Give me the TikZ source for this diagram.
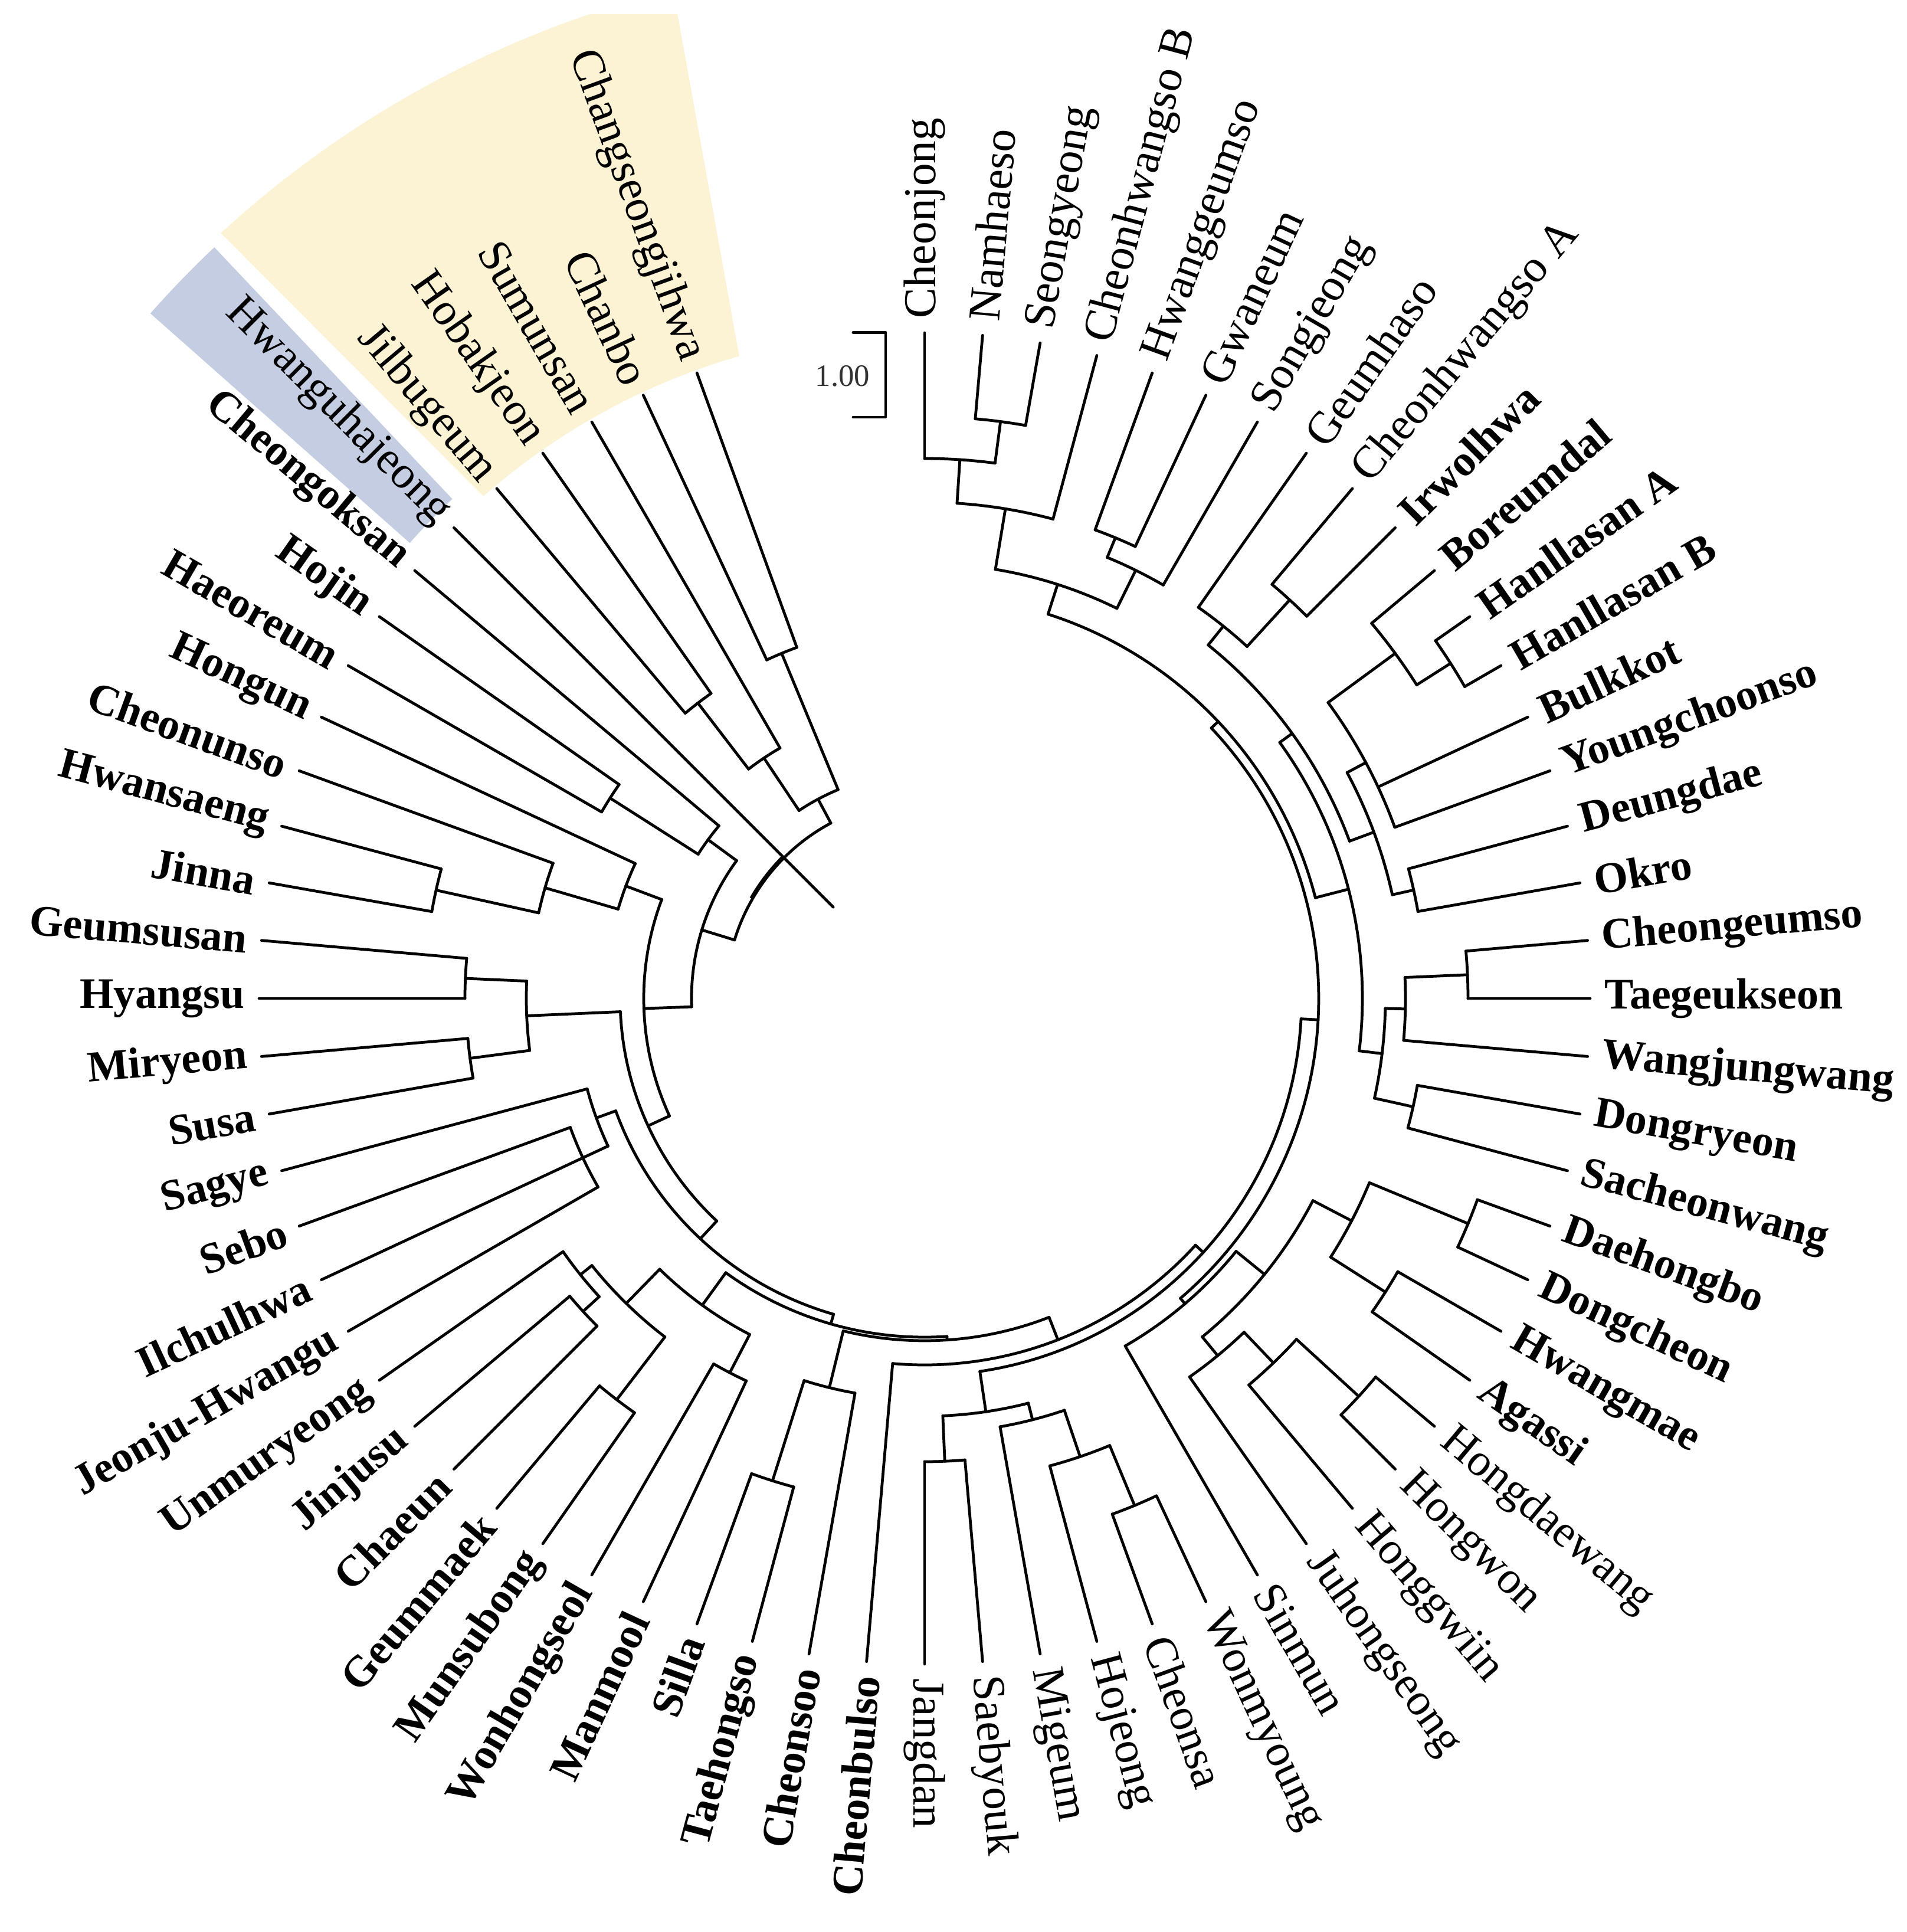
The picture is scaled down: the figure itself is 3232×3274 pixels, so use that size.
\documentclass[tikz,border=0pt]{standalone}
\usepackage{fontspec}
\setmainfont{Liberation Serif}
\usepackage{tikz}
\definecolor{ylw}{RGB}{252,242,212}
\definecolor{blu}{RGB}{196,205,226}
\tikzset{
 br/.style={line width=1.35pt, line cap=round, line join=round},
 labr/.style={font=\fontsize{22}{26}\selectfont, inner sep=0pt},
 labb/.style={font=\fontsize{21}{25}\selectfont\bfseries, inner sep=0pt},
}
\def\tipR{1128}
\def\labR{1152}
% internal node: radius, first child angle, last child angle, parent radius
\newcommand\In[4]{%
 \pgfmathsetmacro\midang{(#2+#3)/2}%
 \draw[br] (#2:#1) arc[start angle=#2, end angle=#3, radius=#1];%
 \draw[br] (\midang:#1) -- (\midang:#4);%
}
% leaves: name, angle, parent radius, style, text
\newcommand\LfR[5]{%
 \draw[br] (#2:#3) -- (#2:\tipR);%
 \node[#4, anchor=west, rotate=#2] (#1) at (#2:\labR) {#5};%
}
\newcommand\LfL[5]{%
 \draw[br] (#2:#3) -- (#2:\tipR);%
 \node[#4, anchor=east, rotate=#2+180] (#1) at (#2:\labR) {#5};%
}
\begin{document}
\begin{tikzpicture}[x=0.01cm,y=0.01cm]
\useasboundingbox (-1567,-1582) rectangle (1665,1692);
\fill[white] (-1567,-1582) rectangle (1665,1692);
\begin{scope}
\clip (-1567,-1582) rectangle (1665,1667);
\fill[ylw] (106.1:1133) arc[start angle=106.1,end angle=131.3,radius=1133] -- (132.6:1762) arc[start angle=132.6,end angle=104,radius=1762] -- cycle;
\end{scope}
\fill[blu] (133.4:1165) arc[start angle=133.4,end angle=138.5,radius=1165] -- (138.5:1752) arc[start angle=138.5,end angle=133.4,radius=1752] -- cycle;
% scale bar
\draw[br] (-121,1128.7) -- (-66,1128.7) -- (-66,985) -- (-121,985);
\node[font=\fontsize{15}{18}\selectfont, text=black!80] (sb) at (-139,1055) {1.00};
% internal nodes
\In{986}{85}{80}{915}
\In{915}{90}{82.5}{841}
\In{841}{86.25}{75}{737}
\In{845}{70}{65}{809}
\In{809}{67.5}{60}{737}
\In{737}{80.625}{63.75}{684}
\In{916}{50}{45}{809}
\In{809}{55}{47.5}{768}
\In{1057}{35}{30}{989}
\In{989}{40}{32.5}{848}
\In{848}{36.25}{20}{812}
\In{849}{15}{10}{812}
\In{812}{28.125}{12.5}{768}
\In{768}{51.25}{20.3125}{742}
\In{921}{5}{0}{815}
\In{815}{2.5}{-5}{781}
\In{848}{-10}{-15}{781}
\In{781}{-1.25}{-12.5}{742}
\In{742}{35.78}{-6.875}{684}
\In{684}{72.19}{14.45}{668}
\In{997}{-20}{-25}{816}
\In{926}{-30}{-35}{816}
\In{816}{-22.5}{-32.5}{742}
\In{998}{-40}{-45}{855}
\In{855}{-42.5}{-50}{783}
\In{783}{-46.25}{-55}{742}
\In{742}{-27.5}{-50.625}{680}
\In{680}{-39.06}{-60}{668}
\In{668}{43.32}{-49.53}{639}
\In{930}{-65}{-70}{820}
\In{820}{-67.5}{-75}{737}
\In{737}{-71.25}{-80}{708}
\In{785}{-85}{-90}{708}
\In{708}{-75.625}{-87.5}{639}
\In{639}{-3.1}{-81.56}{621}
\In{621}{-42.33}{-95}{580}
\In{857}{-105}{-110}{679}
\In{679}{-100}{-107.5}{580}
\In{580}{-68.67}{-103.75}{574}
\In{715}{-115}{-120}{642}
\In{857}{-125}{-130}{723}
\In{785}{-135}{-140}{748}
\In{748}{-137.5}{-145}{723}
\In{723}{-127.5}{-141.25}{642}
\In{642}{-117.5}{-134.375}{574}
\In{574}{-86.21}{-125.94}{557}
\In{639}{-150}{-160}{592}
\In{592}{-155}{-165}{557}
\In{557}{-106.07}{-160}{516}
\In{777}{-170}{-175}{675}
\In{779}{-180}{-185}{675}
\In{675}{-172.5}{-182.5}{516}
\In{516}{-133.04}{-177.5}{476}
\In{848}{-190}{-195}{670}
\In{670}{-192.5}{-200}{541}
\In{541}{-196.25}{-205}{476}
\In{476}{-155.27}{-200.625}{395}
\In{632}{-210}{-215}{455}
\In{455}{-212.5}{-220}{395}
\In{395}{-177.95}{-216.25}{337}
\In{631}{-230}{-235}{490}
\In{490}{-232.5}{-240}{383}
\In{633}{-245}{-250}{383}
\In{383}{-236.25}{-247.5}{337}
\draw[br] (-197.1:337) arc[start angle=-197.1,end angle=-241.875,radius=337];
\draw[line width=1.8pt] (-225:339) arc[start angle=-225,end angle=-210,radius=339];
% leaves
\LfR{l0}{90}{915}{labr}{Cheonjong}
\LfR{l1}{85}{986}{labr}{Namhaeso}
\LfR{l2}{80}{986}{labr}{Seongyeong}
\LfR{l3}{75}{841}{labr}{Cheonhwangso B}
\LfR{l4}{70}{845}{labr}{Hwanggeumso}
\LfR{l5}{65}{845}{labr}{Gwaneum}
\LfR{l6}{60}{809}{labr}{Songjeong}
\LfR{l7}{55}{809}{labr}{Geumhaso}
\LfR{l8}{50}{916}{labr}{Cheonhwangso A}
\LfR{l9}{45}{916}{labb}{Irwolhwa}
\LfR{l10}{40}{989}{labb}{Boreumdal}
\LfR{l11}{35}{1057}{labb}{Hanllasan A}
\LfR{l12}{30}{1057}{labb}{Hanllasan B}
\LfR{l13}{25}{848}{labb}{Bulkkot}
\LfR{l14}{20}{848}{labb}{Youngchoonso}
\LfR{l15}{15}{849}{labb}{Deungdae}
\LfR{l16}{10}{849}{labb}{Okro}
\LfR{l17}{5}{921}{labb}{Cheongeumso}
\LfR{l18}{0}{921}{labb}{Taegeukseon}
\LfR{l19}{-5}{815}{labb}{Wangjungwang}
\LfR{l20}{-10}{848}{labb}{Dongryeon}
\LfR{l21}{-15}{848}{labb}{Sacheonwang}
\LfR{l22}{-20}{997}{labb}{Daehongbo}
\LfR{l23}{-25}{997}{labb}{Dongcheon}
\LfR{l24}{-30}{926}{labb}{Hwangmae}
\LfR{l25}{-35}{926}{labb}{Agassi}
\LfR{l26}{-40}{998}{labr}{Hongdaewang}
\LfR{l27}{-45}{998}{labr}{Hongwon}
\LfR{l28}{-50}{855}{labr}{Honggwiin}
\LfR{l29}{-55}{783}{labr}{Juhongseong}
\LfR{l30}{-60}{680}{labr}{Sinmun}
\LfR{l31}{-65}{930}{labr}{Wonmyoung}
\LfR{l32}{-70}{930}{labr}{Cheonsa}
\LfR{l33}{-75}{820}{labr}{Hojeong}
\LfR{l34}{-80}{737}{labr}{Migeum}
\LfR{l35}{-85}{785}{labr}{Saebyouk}
\LfR{l36}{-90}{785}{labr}{Jangdan}
\LfL{l37}{-95}{621}{labb}{Cheonbulso}
\LfL{l38}{-100}{679}{labb}{Cheonsoo}
\LfL{l39}{-105}{857}{labb}{Taehongso}
\LfL{l40}{-110}{857}{labb}{Silla}
\LfL{l41}{-115}{715}{labb}{Manmool}
\LfL{l42}{-120}{715}{labb}{Wonhongseol}
\LfL{l43}{-125}{857}{labb}{Munsubong}
\LfL{l44}{-130}{857}{labb}{Geummaek}
\LfL{l45}{-135}{785}{labb}{Chaeun}
\LfL{l46}{-140}{785}{labb}{Jinjusu}
\LfL{l47}{-145}{748}{labb}{Unmuryeong}
\LfL{l48}{-150}{639}{labb}{Jeonju-Hwangu}
\LfL{l49}{-155}{639}{labb}{Ilchulhwa}
\LfL{l50}{-160}{639}{labb}{Sebo}
\LfL{l51}{-165}{592}{labb}{Sagye}
\LfL{l52}{-170}{777}{labb}{Susa}
\LfL{l53}{-175}{777}{labb}{Miryeon}
\LfL{l54}{-180}{779}{labb}{Hyangsu}
\LfL{l55}{-185}{779}{labb}{Geumsusan}
\LfL{l56}{-190}{848}{labb}{Jinna}
\LfL{l57}{-195}{848}{labb}{Hwansaeng}
\LfL{l58}{-200}{670}{labb}{Cheonunso}
\LfL{l59}{-205}{541}{labb}{Hongun}
\LfL{l60}{-210}{632}{labb}{Haeoreum}
\LfL{l61}{-215}{632}{labb}{Hojin}
\LfL{l62}{-220}{455}{labb}{Cheongoksan}
\LfL{l63}{-225}{219}{labr}{Hwanguhajeong}
\LfL{l64}{-230}{631}{labr}{Jilbugeum}
\LfL{l65}{-235}{631}{labr}{Hobakjeon}
\LfL{l66}{-240}{490}{labr}{Sumunsan}
\LfL{l67}{-245}{633}{labr}{Chanbo}
\LfL{l68}{-250}{633}{labr}{Changseongjihwa}
\end{tikzpicture}
\end{document}
